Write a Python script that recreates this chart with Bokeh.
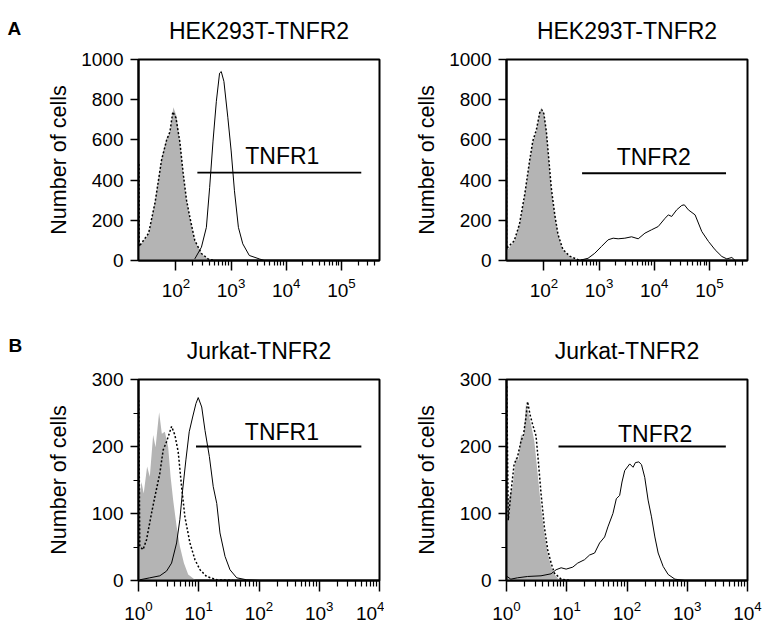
from bokeh.plotting import figure
from bokeh.models import Range1d, FixedTicker, Label
from bokeh.layouts import column, row
from bokeh.embed import file_html
from bokeh.resources import INLINE
from bokeh.core.properties import value

# ---------------- data (fluorescence intensity, number of cells) ----------------
# Panel A left: HEK293T-TNFR2, TNFR1 staining
a1_iso_x = [21.3, 32, 42, 55, 68, 78, 90, 103, 118, 136, 156, 179, 220, 290, 383, 500]
a1_iso_y = [66, 132, 297, 511, 610, 635, 762, 718, 594, 429, 297, 214, 99, 33, 8, 0]
a1_ctl_x = [21.4, 21.6, 32, 42, 55, 68, 78, 88, 100, 118, 136, 156, 179, 220, 290, 383, 500]
a1_ctl_y = [480, 70, 135, 290, 500, 600, 640, 740, 710, 590, 430, 300, 215, 100, 35, 8, 0]
a1_stn_x = [220, 290, 357, 409, 471, 541, 619, 664, 742, 875, 1004, 1151, 1358, 1630, 2140, 3240, 3980]
a1_stn_y = [8, 66, 165, 363, 594, 792, 932, 940, 891, 710, 545, 347, 165, 83, 25, 8, 0]

# Panel A right: HEK293T-TNFR2, TNFR2 staining
a2_iso_x = [20.8, 22, 29, 36, 45, 55, 63, 73, 84, 90, 100, 111, 122, 136, 157, 180, 221, 293, 415, 550]
a2_iso_y = [55, 53, 95, 178, 327, 493, 592, 642, 741, 761, 733, 642, 509, 360, 227, 128, 53, 20, 3, 0]
a2_ctl_x = [20.9, 21.1, 29, 36, 45, 55, 63, 73, 84, 92, 100, 111, 122, 136, 157, 180, 221, 293, 415, 550]
a2_ctl_y = [535, 60, 98, 180, 330, 495, 595, 650, 735, 750, 730, 640, 512, 362, 230, 130, 55, 22, 4, 0]
a2_stn_x = [479, 631, 836, 1107, 1458, 1800, 2215, 2930, 3880, 5120, 6780, 8980, 11800, 15700,
            18000, 20700, 25500, 31500, 35100, 41500, 55000, 72800, 96000, 127000, 168000,
            207000, 255000, 293000]
a2_stn_y = [3, 11, 36, 70, 103, 111, 108, 111, 118, 108, 136, 153, 169, 210,
            227, 219, 252, 274, 277, 252, 227, 144, 95, 53, 20,
            8, 15, 0]

# Panel B left: Jurkat-TNFR2, TNFR1 staining
b1_iso_x = [1.0, 1.02, 1.12, 1.22, 1.39, 1.54, 1.75, 1.92, 2.2, 2.44, 2.74, 3.11, 3.41, 3.76, 4.29, 4.86, 5.67, 6.68, 8.65, 10]
b1_iso_y = [120, 120, 147, 130, 170, 155, 217, 199, 251, 219, 222, 199, 155, 120, 81, 51, 26, 9, 1, 0]
b1_ctl_x = [1.01, 1.05, 1.19, 1.36, 1.65, 1.87, 2.26, 2.57, 2.92, 3.54, 4.02, 4.56, 5.19, 5.89, 7.14, 8.65, 10.5, 13.5, 19.9, 37.5]
b1_ctl_y = [269, 51, 46, 61, 101, 125, 160, 195, 207, 230, 217, 192, 140, 95, 56, 31, 16, 6, 1, 0]
b1_stn_x = [1.05, 1.54, 2.26, 2.92, 3.54, 4.29, 4.86, 5.4, 6.12, 6.95, 7.92, 8.98, 9.8, 11.2, 12.7,
            15.0, 17.4, 19.9, 22.5, 27.3, 33.0, 42.7, 62.7, 104]
b1_stn_y = [1, 4, 7, 14, 26, 56, 91, 135, 180, 222, 244, 264, 273, 259, 224,
            185, 140, 115, 71, 36, 16, 4, 1, 0]

# Panel B right: Jurkat-TNFR2, TNFR2 staining
b2_iso_x = [1.0, 1.07, 1.11, 1.26, 1.43, 1.57, 1.74, 1.92, 2.1, 2.33, 2.55, 2.9, 3.29, 3.74, 4.25, 4.82, 5.5, 6.24, 7.55, 9]
b2_iso_y = [110, 120, 125, 139, 184, 179, 218, 213, 263, 248, 233, 208, 159, 110, 70, 41, 21, 9, 1, 0]
b2_ctl_x = [1.01, 1.07, 1.18, 1.34, 1.52, 1.74, 1.92, 2.1, 2.24, 2.45, 2.71, 3.09, 3.37, 3.74, 4.25, 4.82, 5.5, 6.24, 8.07, 11.8]
b2_ctl_y = [290, 90, 130, 174, 184, 208, 218, 243, 267, 248, 233, 216, 179, 130, 80, 46, 26, 11, 2, 0]
b2_stn_x = [1.02, 1.18, 1.52, 2.24, 3.74, 5.5, 6.65, 8.07, 9.77, 12.6, 15.2, 19.7, 23.9, 29, 35.1, 42.5,
            48.2, 58.4, 66.5, 75.5, 82.6, 91.6, 111, 126, 138, 157, 174, 197, 224, 255, 290, 329,
            398, 482, 624, 916]
b2_stn_y = [6, 2, 4, 6, 7, 10, 16, 19, 17, 20, 26, 31, 38, 41, 56, 65,
            80, 100, 122, 127, 147, 164, 174, 169, 176, 177, 173, 154, 120, 95, 65, 41,
            21, 9, 2, 0]

# gates (x start, x end, level) and their labels
gate_names = ["TNFR1", "TNFR2", "TNFR1", "TNFR2"]
gate_x0 = [245, 492, 9, 7.3]
gate_x1 = [229000, 200000, 5000, 4370]
gate_level = [437, 434, 200, 200]
gate_label_x = [8500, 9800, 240, 293]
gate_label_y = [520, 516, 222, 219]

titles = ["HEK293T-TNFR2", "HEK293T-TNFR2", "Jurkat-TNFR2", "Jurkat-TNFR2"]
panel_letters = ["A", "B"]

top_xticks = [100, 1000, 10000, 100000]
top_xminor = [m * d for d in [100, 1000, 10000] for m in range(2, 10)] + [200000, 300000, 400000]
bot_xticks = [1, 10, 100, 1000, 10000]
bot_xminor = [m * d for d in [1, 10, 100, 1000] for m in range(2, 10)]
top_yticks = [0, 200, 400, 600, 800, 1000]
bot_yticks = [0, 100, 200, 300]
bot_yminor = [50, 150, 250]

FONT = "Liberation Sans"
GRAY = "#b4b4b4"


def make_panel(i, iso_x, iso_y, ctl_x, ctl_y, stn_x, stn_y, xr, yr, xticks, xminor,
               yticks, yminor, width, height, bl, br, bt, bb, xmaj, xmin, xstand, ystand):
    p = figure(width=width, height=height, x_axis_type="log",
               x_range=Range1d(*xr), y_range=Range1d(*yr),
               min_border_left=bl, min_border_right=br, min_border_top=bt, min_border_bottom=bb,
               output_backend="svg", toolbar_location=None, title=titles[i])
    p.background_fill_color = "white"
    p.border_fill_color = "white"
    p.xgrid.visible = False
    p.ygrid.visible = False
    p.outline_line_color = "black"
    p.outline_line_width = 2
    p.outline_line_alpha = 1

    p.title.text_font = FONT
    p.title.text_font_size = "23px"
    p.title.text_font_style = "normal"
    p.title.text_color = "black"
    p.title.align = "center"
    p.title.standoff = 31

    p.varea(x=iso_x, y1=0, y2=iso_y, fill_color=GRAY, fill_alpha=1)
    p.line(x=ctl_x, y=ctl_y, line_color="black", line_width=1.5, line_dash="2 2")
    p.line(x=stn_x, y=stn_y, line_color="black", line_width=1.0)
    p.line(x=[gate_x0[i], gate_x1[i]], y=[gate_level[i], gate_level[i]],
           line_color="black", line_width=1.8)
    p.text(x=[gate_label_x[i]], y=[gate_label_y[i]], text=[gate_names[i]],
           text_font=value(FONT), text_font_size="23px", text_align="center",
           text_baseline="alphabetic", text_color="black")

    for ax in (p.xaxis[0], p.yaxis[0]):
        ax.axis_line_width = 2
        ax.axis_line_color = "black"
        ax.major_tick_line_color = "black"
        ax.major_tick_line_width = 1.5
        ax.minor_tick_line_color = "black"
        ax.minor_tick_line_width = 1.2
        ax.major_tick_in = 0
        ax.minor_tick_in = 0
        ax.major_label_text_font = FONT
        ax.major_label_text_font_size = "19px"
        ax.major_label_text_color = "black"

    xa = p.xaxis[0]
    xa.ticker = FixedTicker(ticks=xticks, minor_ticks=xminor)
    xa.major_tick_out = xmaj
    xa.minor_tick_out = xmin
    xa.major_label_standoff = xstand

    ya = p.yaxis[0]
    ya.ticker = FixedTicker(ticks=yticks, minor_ticks=yminor)
    ya.major_tick_out = 8
    ya.minor_tick_out = 5
    ya.major_label_standoff = 7
    ya.axis_label = "Number of cells"
    ya.axis_label_text_font = FONT
    ya.axis_label_text_font_size = "21.5px"
    ya.axis_label_text_font_style = "normal"
    ya.axis_label_text_color = "black"
    ya.axis_label_standoff = ystand
    return p


WL = 384
WR = 384
top_h = 300
bot_h = 322

pA1 = make_panel(0, a1_iso_x, a1_iso_y, a1_ctl_x, a1_ctl_y, a1_stn_x, a1_stn_y,
                 (21.0, 4.9e5), (0, 1000), top_xticks, top_xminor, top_yticks, [],
                 WL, top_h, 138, 5, 58, 40, 10, 5, 7, 7)
pA2 = make_panel(1, a2_iso_x, a2_iso_y, a2_ctl_x, a2_ctl_y, a2_stn_x, a2_stn_y,
                 (21.0, 4.9e5), (0, 1000), top_xticks, top_xminor, top_yticks, [],
                 WR, top_h, 122, 21, 58, 40, 10, 5, 7, 7)
pB1 = make_panel(2, b1_iso_x, b1_iso_y, b1_ctl_x, b1_ctl_y, b1_stn_x, b1_stn_y,
                 (1, 10000), (0, 300), bot_xticks, bot_xminor, bot_yticks, bot_yminor,
                 WL, bot_h, 138, 5, 79, 41, 11, 6, 9, 18)
pB2 = make_panel(3, b2_iso_x, b2_iso_y, b2_ctl_x, b2_ctl_y, b2_stn_x, b2_stn_y,
                 (1, 10000), (0, 300), bot_xticks, bot_xminor, bot_yticks, bot_yminor,
                 WR, bot_h, 122, 21, 79, 41, 11, 6, 9, 18)


def letter_label(txt, x, y):
    return Label(x=x, y=y, x_units="screen", y_units="screen", text=txt,
                 text_font=FONT, text_font_size="19px", text_font_style="bold",
                 text_color="black", text_baseline="alphabetic")


# panel letters live in the left side panels (annotations in the centre are clipped to the frame)
pA1.add_layout(letter_label(panel_letters[0], -23, 232), "left")
pB1.add_layout(letter_label(panel_letters[1], -21, 235), "left")

layout = column(row(pA1, pA2), row(pB1, pB2))

with open("out.html", "w") as f:
    f.write(file_html(layout, INLINE))
